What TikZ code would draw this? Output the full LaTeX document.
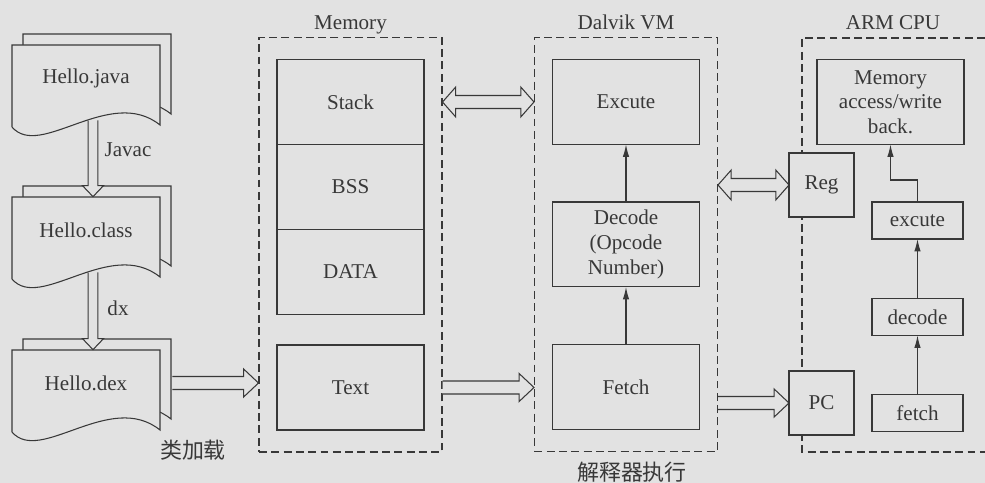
\documentclass[tikz,border=0pt]{standalone}
\usepackage{fontspec}
\setmainfont{Liberation Serif}
\newfontfamily\cjk{Noto Sans CJK SC}
\usetikzlibrary{arrows.meta, positioning, calc, fit}

\definecolor{paper}{RGB}{226,226,226}
\definecolor{ink}{RGB}{56,56,56}

\tikzset{
  every node/.style={font=\fontsize{12}{14}\selectfont, text=ink},
  box/.style={draw=ink, fill=paper, line width=0.6pt, outer sep=0pt,
    minimum width=2.94cm, minimum height=1.7cm, align=center, inner sep=2pt},
  smallbox/.style={box, minimum width=1.82cm, minimum height=0.74cm},
  regbox/.style={box, minimum width=1.3cm, minimum height=1.28cm},
  zone/.style={draw=ink, line width=0.6pt, dash pattern=on 4.5pt off 2.5pt,
    inner xsep=0.36cm, inner ysep=0.44cm},
  title/.style={anchor=base},
  page/.style={draw=ink, fill=paper, line width=0.6pt},
  doc/.style={minimum width=2.96cm, minimum height=1.32cm, inner sep=0pt},
  fatfill/.style={fill=paper},
  fatline/.style={draw=ink, line width=0.6pt},
  arr/.style={draw=ink, line width=0.6pt, -{Latex[length=7pt,width=3.6pt]}},
  cjklabel/.style={font={\cjk\fontsize{12.5}{14}\selectfont}}
}

% file sheet: name, centre, file name
\newcommand{\docpage}[3]{%
  \begin{scope}[shift={#2}]
    \filldraw[page] (-63,-44) -- (85,-44) -- (85,36) .. controls (35,-4) and (-35,71) .. (-63,38) -- cycle;
    \filldraw[page] (-74,-33) -- (74,-33) -- (74,47) .. controls (24,7) and (-46,82) .. (-74,49) -- cycle;
  \end{scope}
  \node[doc] (#1) at #2 {#3};}

% hollow arrow: from, to, half shaft, half head, head length
\newcommand{\fatarrow}[5]{%
  \coordinate (fa-a) at (#1);
  \coordinate (fa-b) at (#2);
  \coordinate (fa-h) at ($(fa-b)!#5!(fa-a)$);
  \fill[fatfill] ($(fa-a)!#3!90:(fa-b)$) -- ($(fa-h)!#3!90:(fa-b)$) -- ($(fa-h)!#4!90:(fa-b)$) -- (fa-b)
    -- ($(fa-h)!#4!-90:(fa-b)$) -- ($(fa-h)!#3!-90:(fa-b)$) -- ($(fa-a)!#3!-90:(fa-b)$) -- cycle;
  \draw[fatline] ($(fa-a)!#3!90:(fa-b)$) -- ($(fa-h)!#3!90:(fa-b)$) -- ($(fa-h)!#4!90:(fa-b)$) -- (fa-b)
    -- ($(fa-h)!#4!-90:(fa-b)$) -- ($(fa-h)!#3!-90:(fa-b)$) -- ($(fa-a)!#3!-90:(fa-b)$);}

\newcommand{\fatdouble}[5]{%
  \coordinate (fa-a) at (#1);
  \coordinate (fa-b) at (#2);
  \coordinate (fa-g) at ($(fa-a)!#5!(fa-b)$);
  \coordinate (fa-h) at ($(fa-b)!#5!(fa-a)$);
  \filldraw[fatfill, fatline] (fa-a) -- ($(fa-g)!#4!90:(fa-b)$) -- ($(fa-g)!#3!90:(fa-b)$)
    -- ($(fa-h)!#3!90:(fa-b)$) -- ($(fa-h)!#4!90:(fa-b)$) -- (fa-b)
    -- ($(fa-h)!#4!-90:(fa-b)$) -- ($(fa-h)!#3!-90:(fa-b)$)
    -- ($(fa-g)!#3!-90:(fa-b)$) -- ($(fa-g)!#4!-90:(fa-b)$) -- cycle;}

\begin{document}
\begin{tikzpicture}[x=0.02cm, y=-0.02cm]
\useasboundingbox (0,0) rectangle (985,483);
\fill[paper] (0,0) rectangle (985,483);

% source files
\docpage{java}{(86,78)}{Hello.java}
\docpage{class}{(86,230)}{Hello.class}
\docpage{dex}{(86,383)}{Hello.dex}

% memory
\node[box] (stack) at (350.5,102) {Stack};
\node[box, below=0pt of stack] (bss) {BSS};
\node[box, below=0pt of bss] (data) {DATA};
\node[box] (text) at (350.5,387.5) {Text};
\node[zone, fit={(stack) (text)}] (mem) {};
\node[title] (memtitle) at (mem.north |- 0,30) {Memory};

% dalvik vm
\node[box] (exe) at (626,102) {Excute};
\node[box, below=1.15cm of exe] (dec) {Decode\\(Opcode\\Number)};
\node[box, below=1.15cm of dec] (fetch) {Fetch};
\node[zone, fit={(exe) (fetch)}] (dvm) {};
\node[title] (dvmtitle) at (dvm.north |- 0,30) {Dalvik VM};
\draw[arr] (fetch) -- (dec);
\draw[arr] (dec) -- (exe);

% arm cpu
\draw[zone] (985,38) -| (802,452) -- (985,452);
\node[title] (armtitle) at (893,30) {ARM CPU};
\node[box] (mab) at (890.5,102) {Memory\\access/write\\back.};
\node[regbox] (reg) at (821.5,185) {Reg};
\node[regbox] (pc) at (821.5,403) {PC};
\node[smallbox] (aexc) at (917.5,220.5) {excute};
\node[smallbox, below=1.19cm of aexc] (adec) {decode};
\node[smallbox, below=1.19cm of adec] (afet) {fetch};
\draw[arr] (afet) -- (adec);
\draw[arr] (adec) -- (aexc);
\draw[arr] (aexc.north) -- ++(0,-22) -| (mab.south);

% hollow arrows
\fatarrow{$(java.south)+(7,9)$}{$(class.north)+(7,0)$}{2.8pt}{6pt}{6.3pt}
\fatarrow{$(class.south)+(7,9)$}{$(dex.north)+(7,0)$}{2.8pt}{6pt}{6.3pt}
\fatarrow{$(dex.east)+(12,0)$}{mem.west |- dex.east}{3.7pt}{8pt}{8.5pt}
\fatarrow{mem.east |- text}{dvm.west |- text}{3.7pt}{8pt}{8.5pt}
\fatarrow{dvm.east |- pc}{pc.west}{3.7pt}{8pt}{8.5pt}
\fatdouble{mem.east |- stack}{dvm.west |- stack}{3.7pt}{8.5pt}{7.5pt}
\fatdouble{dvm.east |- reg}{reg.west}{3.7pt}{8.5pt}{7.5pt}

% labels
\node (javac) at (128,150) {Javac};
\node (dx) at (118,308) {dx};
\node[cjklabel] (load) at (193,450) {类加载};
\node[cjklabel] (interp) at (632,472) {解释器执行};
\end{tikzpicture}
\end{document}
